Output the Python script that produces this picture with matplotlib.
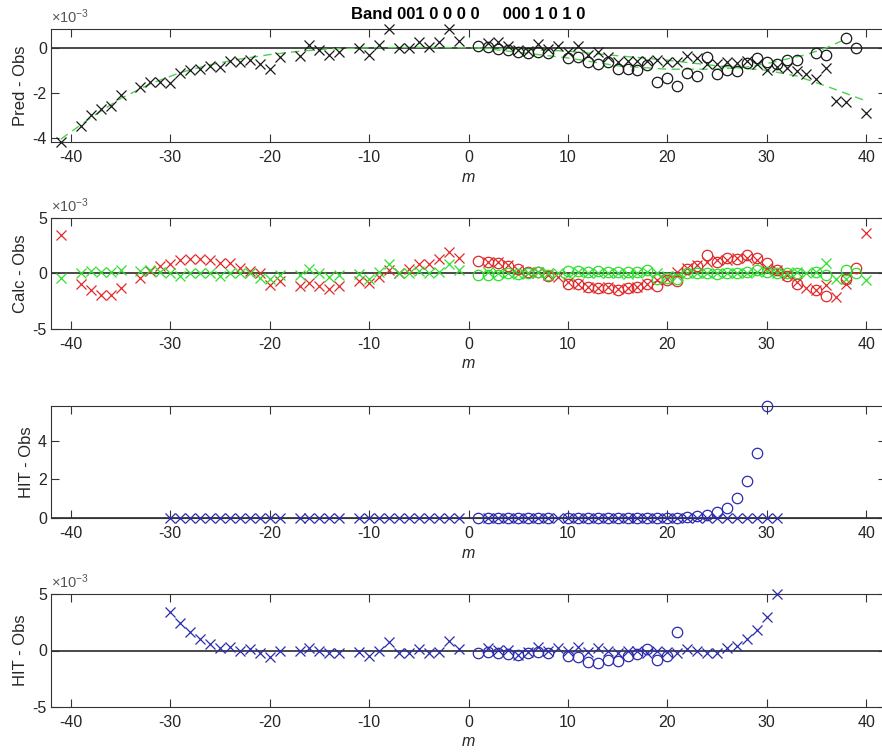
import numpy as np
import matplotlib
matplotlib.use("Agg")
import matplotlib.pyplot as plt

plt.rcParams["font.family"] = ["Liberation Sans", "DejaVu Sans"]
plt.rcParams["mathtext.fontset"] = "custom"
plt.rcParams["mathtext.rm"] = "Liberation Sans"
plt.rcParams["mathtext.default"] = "regular"
plt.rcParams["axes.unicode_minus"] = False

title = "Band 001 0 0 0 0     000 1 0 1 0"

# ---- panel 1: Pred - Obs (x1e-3)
m_x = [-41, -39, -38, -37, -36, -35, -33, -32, -31, -30, -29, -28, -27, -26, -25, -24, -23, -22, -21, -20,
       -19, -17, -16, -15, -14, -13, -11, -10, -9, -8, -7, -6, -5, -4, -3, -2, -1,
       2, 3, 4, 5, 6, 7, 8, 9, 10, 11, 12, 13, 14, 15, 16, 17, 18, 19, 20, 21, 22, 23, 24, 25, 26, 27, 28,
       29, 30, 31, 32, 33, 34, 35, 36, 37, 38, 40]
pred_x = [-4.18, -3.45, -3.0, -2.7, -2.58, -2.1, -1.73, -1.52, -1.5, -1.55, -1.1, -1.0, -0.93, -0.8, -0.87,
          -0.58, -0.64, -0.55, -0.7, -0.93, -0.42, -0.36, 0.14, -0.09, -0.32, -0.2, 0.0, -0.33, 0.12, 0.835,
          -0.03, -0.03, 0.24, 0.05, 0.24, 0.83, 0.29,
          0.21, 0.26, 0.1, -0.09, -0.15, 0.17, -0.05, 0.1, -0.17, 0.1, -0.3, -0.17, -0.42, -0.62, -0.58, -0.58,
          -0.58, -0.52, -0.62, -0.65, -0.35, -0.47, -0.7, -0.73, -0.62, -0.67, -0.6, -0.72, -1.0, -0.85, -0.9,
          -1.03, -1.18, -1.38, -0.88, -2.36, -2.4, -2.9]
m_o = [1, 2, 3, 4, 5, 6, 7, 8, 10, 11, 12, 13, 14, 15, 16, 17, 18, 19, 20, 21, 22, 23, 24, 25, 26, 27, 28,
       29, 30, 31, 32, 33, 35, 36, 38, 39]
pred_o = [0.06, 0.03, -0.06, -0.09, -0.17, -0.24, -0.17, -0.24, -0.44, -0.42, -0.62, -0.7, -0.62, -0.92,
          -0.92, -0.97, -0.77, -1.53, -1.33, -1.68, -1.12, -1.23, -0.42, -1.15, -0.97, -1.03, -0.67, -0.47,
          -0.62, -0.7, -0.55, -0.52, -0.21, -0.32, 0.44, -0.02]
fit_a_m = [-41, -38, -35, -32, -29, -26, -23, -20, -17, -14, -10, -5, 0, 5, 10, 15, 20, 25, 30, 33, 36, 40]
fit_a = [-4.05, -3.1, -2.25, -1.6, -1.1, -0.75, -0.5, -0.3, -0.15, -0.05, 0.0, 0.02, 0.0, -0.05, -0.15,
         -0.35, -0.55, -0.8, -1.0, -1.25, -1.7, -2.36]
fit_b_m = [1, 5, 10, 15, 20, 25, 28, 30, 32, 34, 36, 38]
fit_b = [0.0, -0.2, -0.45, -0.8, -0.95, -0.95, -0.85, -0.7, -0.5, -0.3, 0.0, 0.4]

# ---- panel 2: Calc - Obs (x1e-3)
calc_red_x = [3.47, -0.92, -1.53, -1.9, -1.9, -1.29, -0.37, 0.25, 0.67, 0.86, 1.23, 1.29, 1.29, 1.23, 0.92,
              0.92, 0.46, 0.25, 0.0, -1.07, -0.67, -1.17, -0.83, -1.13, -1.38, -1.17, -0.67, -0.86, -0.31, 0.3,
              0.06, 0.37, 0.86, 0.86, 1.32, 1.95, 1.44,
              1.07, 1.07, 0.77, 0.31, 0.0, 0.15, -0.1, -0.31, -0.77, -0.92, -1.23, -1.29, -1.23, -1.38, -1.29,
              -1.23, -0.92, -0.55, -0.46, 0.15, 0.46, 0.77, 1.07, 1.23, 1.23, 1.38, 1.38, 1.23, 0.46, 0.31,
              -0.15, -0.77, -1.29, -1.47, -1.07, -2.09, -0.98, 3.62]
calc_green_x = [-0.37, 0.0, 0.2, 0.15, 0.1, 0.3, 0.25, 0.3, 0.15, 0.0, -0.2, 0.0, 0.0, 0.0, -0.2, 0.0, 0.0,
                0.0, -0.4, -0.46, -0.15, -0.15, 0.37, 0.06, -0.31, -0.15, -0.06, -0.46, 0.15, 0.86, 0.0, 0.0,
                0.2, 0.0, 0.1, 0.86, 0.31,
                0.1, 0.0, 0.05, -0.05, 0.0, 0.1, 0.0, 0.05, -0.1, 0.1, 0.0, 0.05, 0.0, 0.0, -0.05, 0.0, 0.1,
                0.05, -0.2, -0.2, 0.05, 0.0, 0.0, 0.0, 0.0, 0.05, 0.0, 0.1, 0.2, 0.05, 0.0, 0.1, 0.0, 0.15,
                0.92, -0.46, -0.46, -0.6]
calc_red_o = [1.17, 1.07, 0.98, 0.67, 0.37, 0.15, 0.15, -0.25, -0.98, -0.92, -1.23, -1.29, -1.29, -1.47,
              -1.32, -1.23, -0.92, -1.13, -0.55, -0.67, 0.37, 0.67, 1.63, 1.07, 1.38, 1.29, 1.63, 1.38, 0.92,
              0.31, -0.25, -0.92, -1.53, -2.0, -0.46, 0.46]
calc_green_o = [-0.1, -0.15, -0.1, 0.0, -0.05, 0.0, 0.1, -0.1, 0.2, 0.2, 0.15, 0.2, 0.15, 0.15, 0.1, 0.15,
                0.3, -0.5, -0.45, -0.5, 0.05, 0.05, 0.0, -0.05, 0.0, 0.0, 0.1, 0.3, 0.1, 0.05, 0.0, 0.0,
                0.15, -0.15, 0.3, 0.0]

# ---- panels 3/4: HIT - Obs (absolute units)
hit_m_x = [-30, -29, -28, -27, -26, -25, -24, -23, -22, -21, -20, -19, -17, -16, -15, -14, -13, -11, -10, -9,
           -8, -7, -6, -5, -4, -3, -2, -1, 2, 3, 4, 5, 6, 7, 8, 9, 10, 11, 12, 13, 14, 15, 16, 17, 18, 19,
           20, 21, 22, 23, 24, 25, 26, 27, 28, 29, 30, 31]
hit_x = [3.44, 2.46, 1.65, 0.99, 0.6, 0.24, 0.3, 0.0, 0.09, -0.24, -0.6, 0.0, 0.0, 0.24, 0.0, -0.24, -0.24,
         -0.09, -0.45, -0.06, 0.75, -0.24, -0.24, 0.09, -0.21, -0.12, 0.8, 0.12, 0.2, 0.05, 0.05, -0.38,
         -0.1, 0.27, 0.0, 0.2, 0.0, 0.3, -0.1, 0.2, 0.0, -0.18, 0.0, 0.0, -0.18, 0.0, -0.1, -0.18, 0.12,
         0.0, -0.18, -0.18, 0.2, 0.41, 1.04, 1.83, 2.96, 4.98]
hit_m_o = [1, 2, 3, 4, 5, 6, 7, 8, 10, 11, 12, 13, 14, 15, 16, 17, 18, 19, 20, 21, 22, 23, 24, 25, 26, 27,
           28, 29, 30]
hit_o = [-0.18e-3, -0.1e-3, -0.24e-3, -0.3e-3, -0.38e-3, -0.24e-3, -0.1e-3, -0.18e-3, -0.53e-3, -0.6e-3,
         -0.98e-3, -1.07e-3, -0.83e-3, -0.89e-3, -0.53e-3, -0.3e-3, 0.12e-3, -0.83e-3, -0.53e-3, 1.6e-3,
         0.05, 0.085, 0.17, 0.29, 0.54, 1.02, 1.9, 3.35, 5.79]
hit_x = [v * 1e-3 for v in hit_x]

xticks = [-40, -30, -20, -10, 0, 10, 20, 30, 40]
txt_c = "#262626"
red = "#e02a2a"
green = "#2ee02e"
blue = "#2b2bb0"
ms = 7.5

fig = plt.figure(figsize=(8.82, 7.56), dpi=100)
L, W = 51 / 882, 835 / 882
tops = [29, 218, 406, 594]
bots = [142, 329, 518, 707]
axes = [fig.add_axes([L, 1 - b / 756, W, (b - t) / 756]) for t, b in zip(tops, bots)]


def style(ax, ylabel, yticks, ylim, expo=False):
    ax.set_xlim(-42, 42)
    ax.set_ylim(*ylim)
    ax.set_xticks(xticks)
    ax.set_yticks(yticks)
    ax.tick_params(direction="in", top=True, right=True, length=6, width=0.8,
                   labelsize=11.5, colors="#333333", labelcolor=txt_c)
    ax.tick_params(axis="x", pad=6)
    ax.tick_params(axis="y", pad=3)
    for s in ax.spines.values():
        s.set_color("#333333")
        s.set_linewidth(0.8)
    ax.axhline(0, color="#3a3a3a", lw=1.3, zorder=1)
    ax.set_ylabel(ylabel, fontsize=12, color=txt_c, labelpad=3)
    ax.set_xlabel("m", fontsize=11.5, style="italic", color=txt_c, labelpad=3)
    if expo:
        ax.text(0.0, 1.03, r"$\times10^{-3}$", transform=ax.transAxes, fontsize=10.5,
                color="#555555", ha="left", va="bottom")


def pts(ax, x, y, mk, col, lo, hi):
    x = np.asarray(x)
    y = np.asarray(y)
    keep = (y >= lo) & (y <= hi)
    ax.plot(x[keep], y[keep], mk, color=col, ms=ms, mew=0.9, mfc="none", ls="none", clip_on=False, zorder=3)


# panel 1
ax = axes[0]
style(ax, "Pred - Obs", [-4, -2, 0], (-4.18, 0.835), expo=True)
ax.plot(fit_a_m, fit_a, "--", color="#4fd04f", lw=1.0, dashes=(6, 4), zorder=2)
ax.plot(fit_b_m, fit_b, "--", color="#4fd04f", lw=1.0, dashes=(6, 4), zorder=2)
pts(ax, m_x, pred_x, "x", "#1a1a1a", -5, 5)
pts(ax, m_o, pred_o, "o", "#1a1a1a", -5, 5)
ax.set_title(title, fontsize=12, fontweight="bold", color="black", pad=7)

# panel 2
ax = axes[1]
style(ax, "Calc - Obs", [-5, 0, 5], (-5, 5), expo=True)
pts(ax, m_x, calc_red_x, "x", red, -5, 5)
pts(ax, m_x, calc_green_x, "x", green, -5, 5)
pts(ax, m_o, calc_red_o, "o", red, -5, 5)
pts(ax, m_o, calc_green_o, "o", green, -5, 5)

# panel 3
ax = axes[2]
style(ax, "HIT - Obs", [0, 2, 4], (0, max(hit_o)))
pts(ax, hit_m_x, hit_x, "x", blue, -1, 10)
pts(ax, hit_m_o, hit_o, "o", blue, -1, 10)

# panel 4
ax = axes[3]
style(ax, "HIT - Obs", [-5, 0, 5], (-5, 5), expo=True)
pts(ax, hit_m_x, [v * 1e3 for v in hit_x], "x", blue, -5, 5)
pts(ax, hit_m_o, [v * 1e3 for v in hit_o], "o", blue, -5, 5)

fig.savefig("out.png", dpi=100)
